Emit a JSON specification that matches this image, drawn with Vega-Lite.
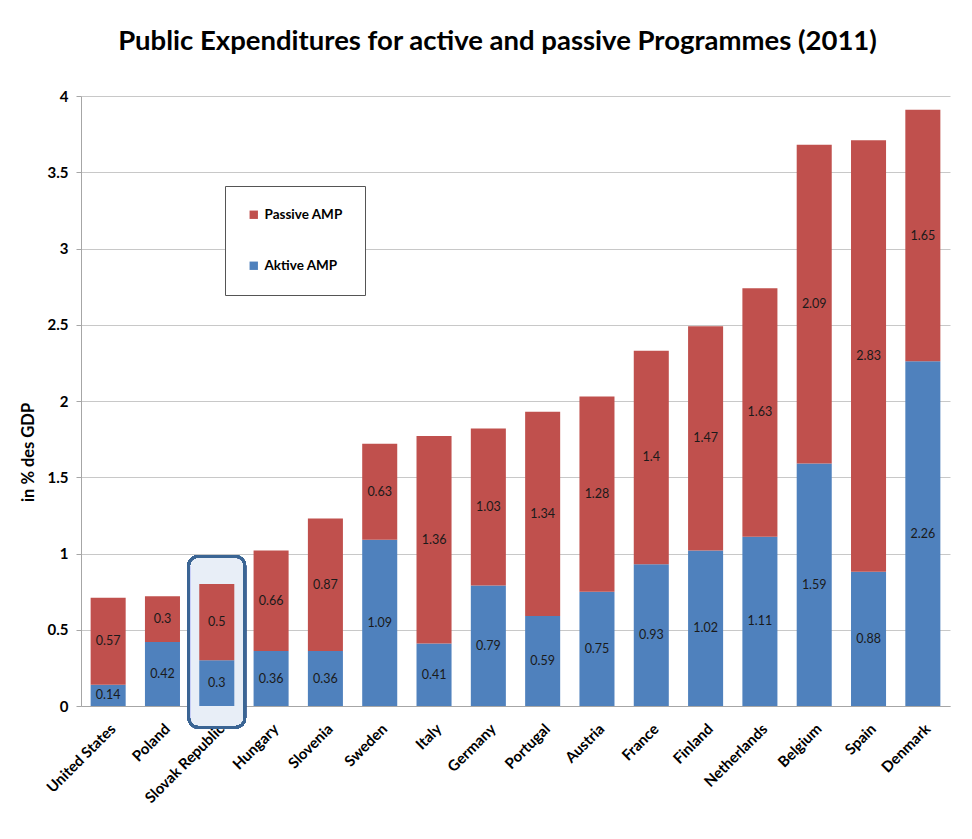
{
  "$schema": "https://vega.github.io/schema/vega-lite/v6.json",
  "width": 869,
  "height": 610,
  "autosize": "none",
  "padding": {"left": 81, "top": 96, "right": 22, "bottom": 133},
  "background": "white",
  "title": {
    "text": "Public Expenditures for active and passive Programmes (2011)",
    "font": "Lato",
    "fontSize": 27.5,
    "fontWeight": "bold",
    "color": "#000000",
    "anchor": "middle",
    "dx": -18,
    "offset": 34
  },
  "config": {
    "view": {"stroke": null},
    "font": "Lato"
  },
  "data": {
    "values": [
      {"country": "United States", "type": "Aktive AMP", "value": 0.14},
      {"country": "United States", "type": "Passive AMP", "value": 0.57},
      {"country": "Poland", "type": "Aktive AMP", "value": 0.42},
      {"country": "Poland", "type": "Passive AMP", "value": 0.3},
      {"country": "Slovak Republic", "type": "Aktive AMP", "value": 0.3},
      {"country": "Slovak Republic", "type": "Passive AMP", "value": 0.5},
      {"country": "Hungary", "type": "Aktive AMP", "value": 0.36},
      {"country": "Hungary", "type": "Passive AMP", "value": 0.66},
      {"country": "Slovenia", "type": "Aktive AMP", "value": 0.36},
      {"country": "Slovenia", "type": "Passive AMP", "value": 0.87},
      {"country": "Sweden", "type": "Aktive AMP", "value": 1.09},
      {"country": "Sweden", "type": "Passive AMP", "value": 0.63},
      {"country": "Italy", "type": "Aktive AMP", "value": 0.41},
      {"country": "Italy", "type": "Passive AMP", "value": 1.36},
      {"country": "Germany", "type": "Aktive AMP", "value": 0.79},
      {"country": "Germany", "type": "Passive AMP", "value": 1.03},
      {"country": "Portugal", "type": "Aktive AMP", "value": 0.59},
      {"country": "Portugal", "type": "Passive AMP", "value": 1.34},
      {"country": "Austria", "type": "Aktive AMP", "value": 0.75},
      {"country": "Austria", "type": "Passive AMP", "value": 1.28},
      {"country": "France", "type": "Aktive AMP", "value": 0.93},
      {"country": "France", "type": "Passive AMP", "value": 1.4},
      {"country": "Finland", "type": "Aktive AMP", "value": 1.02},
      {"country": "Finland", "type": "Passive AMP", "value": 1.47},
      {"country": "Netherlands", "type": "Aktive AMP", "value": 1.11},
      {"country": "Netherlands", "type": "Passive AMP", "value": 1.63},
      {"country": "Belgium", "type": "Aktive AMP", "value": 1.59},
      {"country": "Belgium", "type": "Passive AMP", "value": 2.09},
      {"country": "Spain", "type": "Aktive AMP", "value": 0.88},
      {"country": "Spain", "type": "Passive AMP", "value": 2.83},
      {"country": "Denmark", "type": "Aktive AMP", "value": 2.26},
      {"country": "Denmark", "type": "Passive AMP", "value": 1.65}
    ]
  },
  "encoding": {
    "x": {
      "field": "country",
      "type": "nominal",
      "sort": ["United States", "Poland", "Slovak Republic", "Hungary", "Slovenia", "Sweden", "Italy", "Germany", "Portugal", "Austria", "France", "Finland", "Netherlands", "Belgium", "Spain", "Denmark"],
      "scale": {"paddingInner": 0.355, "paddingOuter": 0.1775},
      "axis": {
        "title": null,
        "labelAngle": -45,
        "labelFont": "Lato",
        "labelFontSize": 15,
        "labelFontWeight": "bold",
        "labelColor": "#000000",
        "labelPadding": 15,
        "ticks": false,
        "domain": true,
        "domainColor": "#a6a6a6",
        "labelOverlap": false
      }
    }
  },
  "layer": [
    {
      "mark": {"type": "bar", "width": {"band": 1.6}, "cornerRadius": 9, "fill": "#e8eef7", "clip": false},
      "encoding": {
        "x": {"datum": "Slovak Republic"},
        "y": {"datum": -0.14},
        "y2": {"datum": 0.98}
      }
    },
    {
      "mark": {"type": "bar"},
      "encoding": {
        "y": {
          "field": "value",
          "type": "quantitative",
          "stack": "zero",
          "scale": {"domain": [0, 4]},
          "axis": {
            "title": "in % des GDP",
            "titleFont": "Lato",
            "titleFontSize": 16.5,
            "titleFontWeight": "bold",
            "titleColor": "#000000",
            "titleX": -53,
            "titleY": 356,
            "titleAlign": "center",
            "titleBaseline": "middle",
            "titleAngle": -90,
            "values": [0, 0.5, 1, 1.5, 2, 2.5, 3, 3.5, 4],
            "format": "~g",
            "labelFont": "Lato",
            "labelFontSize": 15,
            "labelFontWeight": "bold",
            "labelColor": "#000000",
            "labelPadding": 8,
            "tickSize": 5,
            "tickColor": "#a6a6a6",
            "domainColor": "#a6a6a6",
            "gridColor": "#c8c8c8",
            "grid": true
          }
        },
        "color": {
          "field": "type",
          "type": "nominal",
          "scale": {"domain": ["Passive AMP", "Aktive AMP"], "range": ["#c0504d", "#4f81bd"]},
          "legend": {
            "title": null,
            "orient": "none",
            "legendX": 144,
            "legendY": 90,
            "symbolType": "square",
            "symbolSize": 70,
            "symbolStrokeWidth": 0,
            "labelFont": "Lato",
            "labelFontSize": 13.5,
            "labelFontWeight": "bold",
            "labelColor": "#000000",
            "rowPadding": 36,
            "padding": 22,
            "strokeColor": "#555555",
            "fillColor": "white"
          }
        },
        "order": {"field": "type", "sort": "ascending"}
      }
    },
    {
      "transform": [
        {"stack": "value", "groupby": ["country"], "sort": [{"field": "type", "order": "ascending"}], "as": ["y0", "y1"]},
        {"fold": ["y0", "y1"], "as": ["edge", "pos"]},
        {"aggregate": [{"op": "mean", "field": "pos", "as": "mid"}], "groupby": ["country", "type", "value"]}
      ],
      "mark": {"type": "text", "font": "Lato", "fontSize": 12.5, "color": "#1a1a1a", "baseline": "middle"},
      "encoding": {
        "y": {"field": "mid", "type": "quantitative"},
        "text": {"field": "value", "type": "quantitative", "format": ".2~f"}
      }
    },
    {
      "mark": {"type": "bar", "width": {"band": 1.6}, "cornerRadius": 9, "fill": "transparent", "stroke": "#3b6594", "strokeWidth": 2.5, "clip": false},
      "encoding": {
        "x": {"datum": "Slovak Republic"},
        "y": {"datum": -0.14},
        "y2": {"datum": 0.98}
      }
    }
  ]
}
